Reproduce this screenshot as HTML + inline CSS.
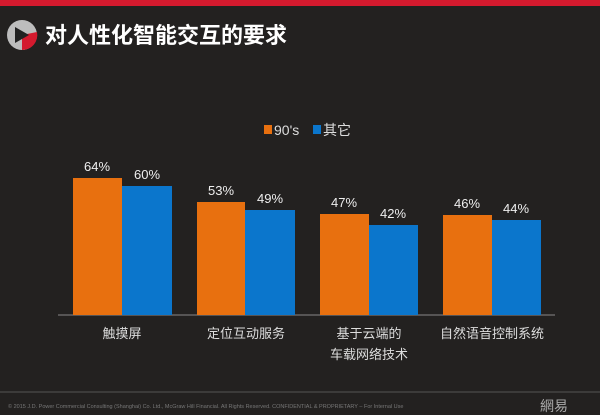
<!DOCTYPE html>
<html><head><meta charset="utf-8"><style>
body{margin:0;width:600px;height:415px;overflow:hidden;background:#232120;font-family:"Liberation Sans","Noto Sans CJK SC",sans-serif;}
</style></head><body>
<svg width="600" height="415" xmlns="http://www.w3.org/2000/svg" style="position:absolute;left:0;top:0">
<rect width="600" height="415" fill="#232120"/>
<rect width="600" height="6" fill="#d41a2e"/>
<circle cx="22" cy="35" r="15" fill="#bdbdbd"/>
<path d="M22 35 L37 32 A15 15 0 0 1 22 50 Z" fill="#d41a2e"/>
<polygon points="15,27 15,43 29,35" fill="#222"/>
<text x="45" y="43" font-size="22" font-weight="bold" fill="#fff" font-family="Noto Sans CJK SC,sans-serif">对人性化智能交互的要求</text>
<rect x="264" y="125" width="8" height="9" fill="#e8700f"/>
<text x="274" y="135" font-size="14" fill="#ddd">90's</text>
<rect x="313" y="125" width="8" height="9" fill="#0b76cc"/>
<text x="323" y="135" font-size="14" fill="#ddd" font-family="Noto Sans CJK SC,sans-serif">其它</text>
<line x1="58" y1="315" x2="555" y2="315" stroke="#888" stroke-width="1"/>
<g font-size="13" fill="#eee" text-anchor="middle">
<rect x="73" y="178" width="49" height="137" fill="#e8700f"/><text x="97" y="171">64%</text>
<rect x="122" y="186" width="50" height="129" fill="#0b76cc"/><text x="147" y="179">60%</text>
<rect x="197" y="202" width="48" height="113" fill="#e8700f"/><text x="221" y="195">53%</text>
<rect x="245" y="210" width="50" height="105" fill="#0b76cc"/><text x="270" y="203">49%</text>
<rect x="320" y="214" width="49" height="101" fill="#e8700f"/><text x="344" y="207">47%</text>
<rect x="369" y="225" width="49" height="90" fill="#0b76cc"/><text x="393" y="218">42%</text>
<rect x="443" y="215" width="49" height="100" fill="#e8700f"/><text x="467" y="208">46%</text>
<rect x="492" y="220" width="49" height="95" fill="#0b76cc"/><text x="516" y="213">44%</text>
</g>
<g font-size="13" fill="#ddd" text-anchor="middle" font-family="Noto Sans CJK SC,sans-serif">
<text x="122" y="338">触摸屏</text>
<text x="246" y="338">定位互动服务</text>
<text x="369" y="338">基于云端的</text>
<text x="369" y="359">车载网络技术</text>
<text x="492" y="338">自然语音控制系统</text>
</g>
<line x1="0" y1="392" x2="600" y2="392" stroke="#555" stroke-width="1"/>
<text x="8" y="408" font-size="5.5" fill="#777">© 2015 J.D. Power Commercial Consulting (Shanghai) Co. Ltd., McGraw Hill Financial. All Rights Reserved. CONFIDENTIAL &amp; PROPRIETARY – For Internal Use</text>
<text x="540" y="411" font-size="14" fill="#aaa" font-family="Noto Sans CJK SC,sans-serif">網易</text>
</svg>
</body></html>
